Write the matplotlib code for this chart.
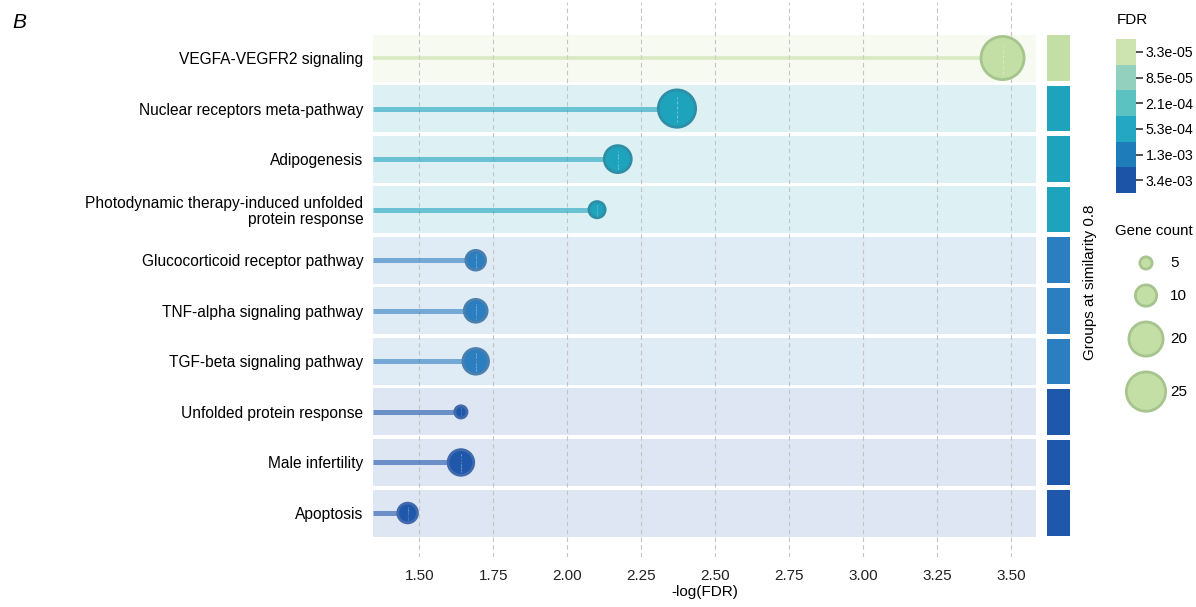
import numpy as np
import matplotlib
matplotlib.use("Agg")
import matplotlib.pyplot as plt
from matplotlib.path import Path

plt.rcParams['font.family'] = ['Liberation Sans', 'DejaVu Sans']

# ---- data ----
pathways = [
    "VEGFA-VEGFR2 signaling",
    "Nuclear receptors meta-pathway",
    "Adipogenesis",
    "Photodynamic therapy-induced unfolded\nprotein response",
    "Glucocorticoid receptor pathway",
    "TNF-alpha signaling pathway",
    "TGF-beta signaling pathway",
    "Unfolded protein response",
    "Male infertility",
    "Apoptosis",
]
neg_log_fdr = [3.47, 2.37, 2.17, 2.10, 1.69, 1.69, 1.69, 1.64, 1.64, 1.46]
gene_count = [29, 23, 14, 7, 9, 11, 13, 5, 13, 9]
group_id = [0, 1, 1, 1, 2, 2, 2, 3, 3, 3]

fdr_labels = ["3.3e-05", "8.5e-05", "2.1e-04", "5.3e-04", "1.3e-03", "3.4e-03"]
legend_counts = [5, 10, 20, 25]

# ---- styles ----
group_colors = ["#c4dfa5", "#1ea3bd", "#2b7ebf", "#1f58ab"]
group_edges = ["#a6c48e", "#2e8ea6", "#4a7fae", "#4169ab"]
fdr_colors = ["#cde3b0", "#93d0bd", "#5cc2c1", "#24a7c2", "#1f7cbb", "#1c55a8"]

W, H = 1196, 607
DPI = 100
PX2PT = 72.0 / DPI
EDGE_LW = 2.0  # pt


def outer_diam_px(c):
    # bubble size scale (outer diameter in pixels)
    return -6.9 + 9.8 * np.sqrt(c)


def bubble_s(c):
    d_pt = outer_diam_px(np.asarray(c, float)) * PX2PT - EDGE_LW
    return d_pt ** 2


# dashed vertical line marker drawn inside each bubble
n_dash = 6
verts, codes = [], []
for k in range(n_dash):
    y0 = -0.4 + k * 0.8 / n_dash
    verts += [(0, y0), (0, y0 + 0.8 / n_dash * 0.55)]
    codes += [Path.MOVETO, Path.LINETO]
verts += [(0, 0.5), (0, 0.5), (0, -0.5), (0, -0.5)]
codes += [Path.MOVETO, Path.LINETO, Path.MOVETO, Path.LINETO]
dash_marker = Path(verts, codes)

fig = plt.figure(figsize=(W / DPI, H / DPI), dpi=DPI)


def fig_rect(x0, y0, x1, y1):
    return [x0 / W, 1 - y1 / H, (x1 - x0) / W, (y1 - y0) / H]


ax = fig.add_axes(fig_rect(373, 2, 1036, 557))
ypos = np.arange(len(pathways))
ylim = (9.87, -1.108)
xlim = (1.343, 3.583)

face = [group_colors[g] for g in group_id]
edge = [group_edges[g] for g in group_id]

for y, g in zip(ypos, group_id):
    ax.axhspan(y - 0.465, y + 0.465, color=group_colors[g], alpha=0.15, lw=0, zorder=0.2)

for y, v, g in zip(ypos, neg_log_fdr, group_id):
    ax.plot([xlim[0], v], [y, y], color=group_colors[g], alpha=0.6,
            lw=2.6 if g == 0 else 3.6, solid_capstyle='butt', zorder=2)

ax.scatter(neg_log_fdr, ypos, s=bubble_s(gene_count), c=face, edgecolors=edge,
           linewidths=EDGE_LW, zorder=3)
ax.scatter(neg_log_fdr, ypos, s=bubble_s(gene_count) * 0.85, marker=dash_marker,
           facecolors='none', edgecolors='white', alpha=0.35, linewidths=0.8, zorder=4)

ticks = np.arange(1.5, 3.51, 0.25)
ax.set_xlim(*xlim)
ax.set_ylim(*ylim)
ax.set_xticks(ticks)
ax.set_xticklabels([f"{t:.2f}" for t in ticks])
ax.set_yticks(ypos)
ax.set_yticklabels(pathways, fontsize=11.2, linespacing=1.1)
ax.tick_params(axis='both', length=0)
ax.tick_params(axis='x', labelsize=11, pad=9, colors='#222222')
ax.tick_params(axis='y', pad=7)
ax.set_axisbelow(True)
ax.grid(axis='x', linestyle=(0, (4, 3)), color='#c4c4c4', lw=0.8)
ax.grid(axis='y', visible=False)
for sp in ax.spines.values():
    sp.set_visible(False)
ax.set_xlabel("-log(FDR)", fontsize=11, labelpad=1)

# group strip
ax_g = fig.add_axes(fig_rect(1047, 2, 1070, 557))
ax_g.barh(ypos, [1] * len(ypos), height=0.9, color=face, lw=0)
ax_g.set_xlim(0, 1)
ax_g.set_ylim(*ylim)
ax_g.axis('off')
fig.text(1090 / W, 1 - 282 / H, "Groups at similarity 0.8", rotation=90,
         ha='center', va='center', fontsize=11)

# FDR colour legend
ax_c = fig.add_axes(fig_rect(1116, 39, 1136, 193))
ax_c.barh(np.arange(len(fdr_labels)), [1] * len(fdr_labels), height=1.0,
          color=fdr_colors, lw=0)
ax_c.set_xlim(0, 1)
ax_c.set_ylim(len(fdr_labels) - 0.5, -0.5)
ax_c.set_xticks([])
ax_c.yaxis.tick_right()
ax_c.set_yticks(np.arange(len(fdr_labels)))
ax_c.set_yticklabels(fdr_labels, fontsize=10.2)
ax_c.tick_params(axis='y', length=5, width=1.2, color='#333333', pad=2)
for sp in ax_c.spines.values():
    sp.set_visible(False)
fig.text(1117 / W, 1 - 20 / H, "FDR", ha='left', va='center', fontsize=11)

# gene count legend, stacked by bubble size
ax_l = fig.add_axes([1100 / W, 0, 96 / W, 1])
ax_l.set_xlim(1100, 1196)
ax_l.set_ylim(H, 0)
ax_l.axis('off')
fig.text(1115 / W, 1 - 231 / H, "Gene count", ha='left', va='center', fontsize=10.8)
d_leg = outer_diam_px(np.array(legend_counts, float))
y_leg = [263.0]
for k in range(1, len(legend_counts)):
    y_leg.append(y_leg[-1] + (d_leg[k - 1] + d_leg[k]) / 2 + 13)
ax_l.scatter([1146] * len(legend_counts), y_leg, s=bubble_s(legend_counts),
             c=group_colors[0], edgecolors=group_edges[0], linewidths=EDGE_LW,
             clip_on=False)
for c, y in zip(legend_counts, y_leg):
    ax_l.text(1170, y, str(c), ha='left', va='center', fontsize=11)

fig.text(12 / W, 1 - 22 / H, "B", style='italic', fontsize=15, ha='left', va='center')

fig.savefig("out.png", dpi=DPI)
